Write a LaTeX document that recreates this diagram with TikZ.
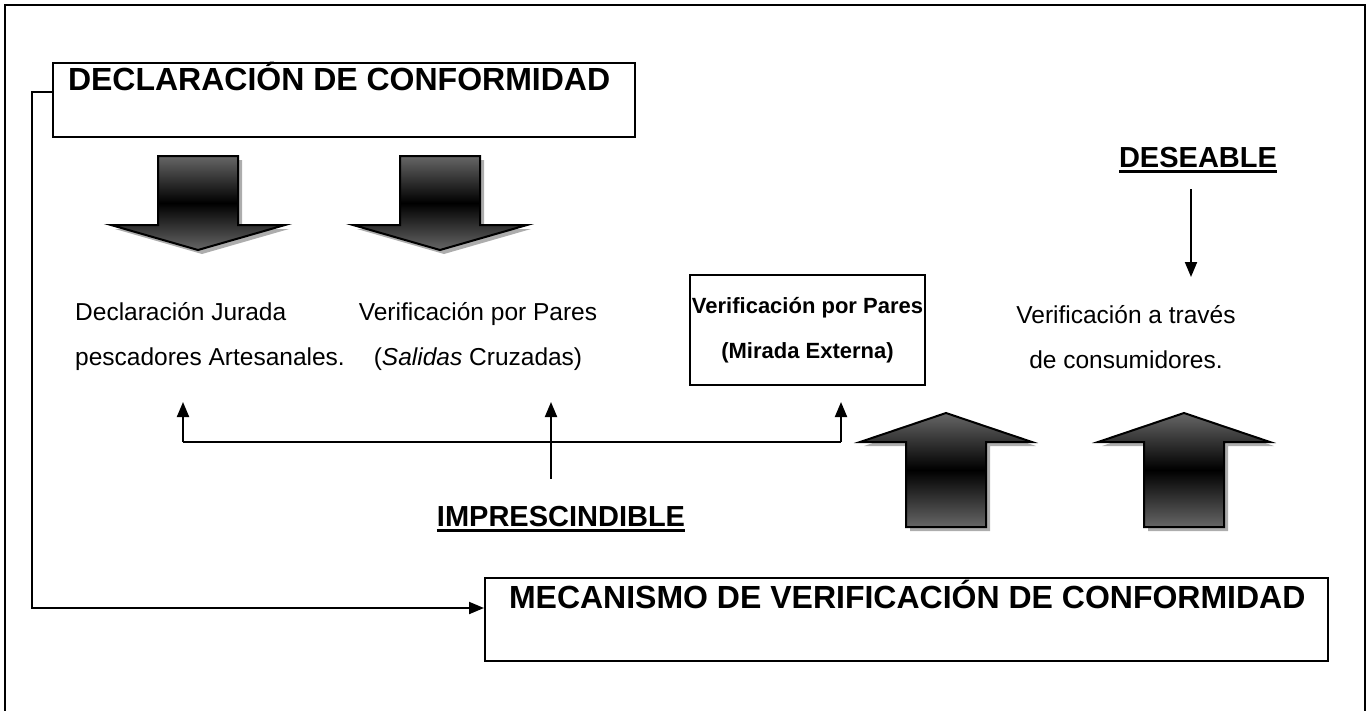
\documentclass[tikz,border=0pt]{standalone}
\usepackage{fontspec}
\setmainfont{Liberation Sans}
\usepackage{tikz}
\usetikzlibrary{arrows.meta, positioning}
\definecolor{arrowgray}{gray}{0.4}
\definecolor{shadowgray}{gray}{0.68}
\newcommand{\ulword}[1]{\vtop{\hbox{#1}\kern3pt\hrule height 3pt}}
\newcommand{\blockdown}[2]{%
  \begin{scope}[shift={(#1,#2)}]
    \fill[shadowgray, shift={(4,4)}] (-40,0) -- (40,0) -- (40,69) -- (87,69)
      -- (0,94) -- (-87,69) -- (-40,69) -- cycle;
    \shadedraw[blockarrow] (-40,0) -- (40,0) -- (40,69) -- (87,69)
      -- (0,94) -- (-87,69) -- (-40,69) -- cycle;
  \end{scope}}
\newcommand{\blockup}[2]{%
  \begin{scope}[shift={(#1,#2)}]
    \fill[shadowgray, shift={(4,4)}] (-40,0) -- (40,0) -- (40,-85) -- (86,-85)
      -- (0,-114) -- (-86,-85) -- (-40,-85) -- cycle;
    \shadedraw[blockarrow] (-40,0) -- (40,0) -- (40,-85) -- (86,-85)
      -- (0,-114) -- (-86,-85) -- (-40,-85) -- cycle;
  \end{scope}}
\tikzset{
  titlebox/.style={
    draw=black,
    line width=2pt,
    inner xsep=15pt,
    inner ysep=3pt,
    text height=24pt,
    text depth=44pt,
    font=\fontsize{32pt}{38pt}\selectfont\bfseries
  },
  plaintext/.style={
    align=center,
    inner sep=0pt,
    font=\fontsize{24.5pt}{45pt}\selectfont
  },
  boldbox/.style={
    draw=black,
    line width=2pt,
    align=center,
    minimum width=235pt,
    minimum height=110pt,
    inner sep=0pt,
    font=\fontsize{22pt}{45pt}\selectfont\bfseries
  },
  tag/.style={
    inner sep=0pt,
    font=\fontsize{29pt}{34pt}\selectfont\bfseries
  },
  blockarrow/.style={
    draw=black,
    line width=2pt,
    top color=arrowgray,
    bottom color=arrowgray,
    middle color=black
  },
  line/.style={draw, line width=2pt},
  arrow/.style={draw, line width=2pt, -{Triangle[width=12pt,length=15pt]}}
}
\begin{document}
\begin{tikzpicture}[x=1pt, y=-1pt, every edge/.style={arrow}]
  \useasboundingbox (0,0) rectangle (1367,710);
  \draw[line] (5,712) -- (5,5) -- (1365,5) -- (1365,712);

  \node (decl) [titlebox] at (344,100) {\makebox[552pt][l]{DECLARACIÓN DE CONFORMIDAD}};
  \node (mech) [titlebox, inner xsep=24pt, text height=27pt, text depth=50pt]
    at (906.5,619.5) {\makebox[795pt][l]{MECANISMO DE VERIFICACIÓN DE CONFORMIDAD}};

  \node (jurada) [plaintext, anchor=west, align=left] at (75,337)
    {Declaración Jurada\\pescadores Artesanales.};
  \node (pares) [plaintext] at (478,337) {Verificación por Pares\\(\textit{Salidas} Cruzadas)};
  \node (mirada) [boldbox] at (807.5,330) {Verificación por Pares\\(Mirada Externa)};
  \node (consum) [plaintext] at (1126,337) {Verificación a través\\de consumidores.};

  \node (imp) [tag, anchor=base] at (561,526) {\ulword{IMPRESCINDIBLE}};
  \node (des) [tag, anchor=base] at (1198,167) {\ulword{DESEABLE}};

  \blockdown{198}{156}
  \blockdown{440}{156}
  \blockup{946}{527}
  \blockup{1184}{527}

  \coordinate (busL) at (183,442);
  \coordinate (busM) at (551,442);
  \coordinate (busR) at (841,442);
  \coordinate (tipRow) at (0,402);
  \coordinate (desTip) at (1191,277);
  \coordinate (bendTop) at (32,92);
  \coordinate (bendBot) at (32,608);

  \draw[line] (busL) -- (busR);
  \draw[arrow, shorten <=27pt] (imp.north -| busM) -- (busM |- tipRow);
  \draw[arrow, shorten <=16pt] (des.south -| desTip) -- (desTip);
  \draw[arrow] (decl.west |- bendTop) -- (bendTop) -- (bendBot) -- (mech.west |- bendBot);
  \path
  (busL) edge (busL |- tipRow)
  (busR) edge (busR |- tipRow)
  ;
\end{tikzpicture}
\end{document}
